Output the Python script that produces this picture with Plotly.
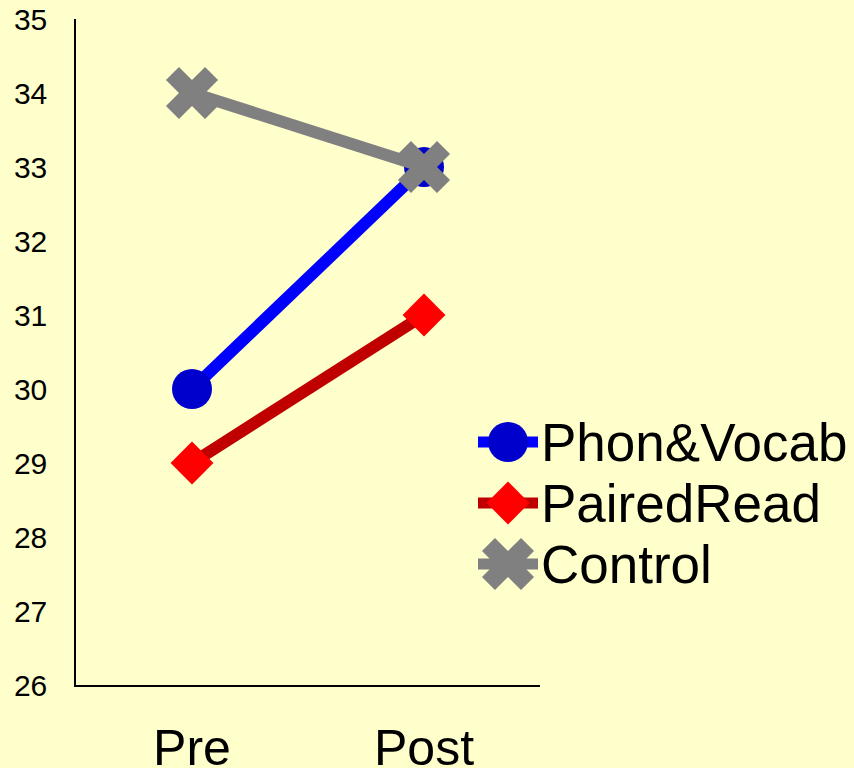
import plotly.graph_objects as go

# ---- data ----
categories = ["Pre", "Post"]
series_names = ["Phon&Vocab", "PairedRead", "Control"]
phon_vocab = [30, 33]
paired_read = [29, 31]
control = [34, 33]
series_values = [phon_vocab, paired_read, control]
y_ticks = [26, 27, 28, 29, 30, 31, 32, 33, 34, 35]

# ---- styling ----
W, H = 854, 768
BG = "#FFFFCC"
FONT = "Liberation Sans, Arial, sans-serif"
PLOT_L, PLOT_R, PLOT_T, PLOT_B = 76, 540, 19, 685  # plot area in px

styles = [
    dict(line="#0000FF", marker="#0000CC", symbol="circle", size=40),
    dict(line="#C00000", marker="#FF0000", symbol="diamond", size=33),
    dict(line="#808080", marker="#808080", symbol="x", size=46),
]
LINE_W = 12

fig = go.Figure()

for name, vals, st in zip(series_names, series_values, styles):
    fig.add_trace(go.Scatter(
        x=categories, y=vals, name=name, mode="lines+markers",
        line=dict(color=st["line"], width=LINE_W),
        marker=dict(color=st["marker"], symbol=st["symbol"], size=st["size"],
                    line=dict(width=0)),
        xaxis="x", yaxis="y", showlegend=False,
    ))

# ---- custom legend (large symbols) on a pixel-space overlay axis ----
LEG_X0, LEG_X1 = 478, 538
LEG_Y0, LEG_DY = 442, 61
for i, (name, st) in enumerate(zip(series_names, styles)):
    yy = LEG_Y0 + i * LEG_DY
    fig.add_trace(go.Scatter(
        x=[LEG_X0, LEG_X1], y=[yy, yy], mode="lines",
        line=dict(color=st["line"], width=LINE_W - 1),
        xaxis="x2", yaxis="y2", showlegend=False, hoverinfo="skip",
    ))
    fig.add_trace(go.Scatter(
        x=[(LEG_X0 + LEG_X1) / 2], y=[yy], mode="markers",
        marker=dict(color=st["marker"], symbol=st["symbol"], size=st["size"],
                    line=dict(width=0)),
        xaxis="x2", yaxis="y2", showlegend=False, hoverinfo="skip",
    ))
    fig.add_annotation(
        x=LEG_X1 + 1, y=yy, xref="x2", yref="y2", text=name,
        showarrow=False, xanchor="left", yanchor="middle",
        font=dict(family=FONT, size=53, color="black"),
    )

fig.update_layout(
    width=W, height=H,
    margin=dict(l=0, r=0, t=0, b=0),
    paper_bgcolor=BG, plot_bgcolor="rgba(0,0,0,0)",
    font=dict(family=FONT, color="black"),
    showlegend=False,
    xaxis=dict(
        type="category", range=[-0.5, 1.5],
        domain=[PLOT_L / W, PLOT_R / W],
        showline=True, linecolor="black", linewidth=1.5,
        showgrid=False, zeroline=False, ticks="",
        tickfont=dict(size=50), ticklabelstandoff=18,
        anchor="y", automargin=False, fixedrange=True,
    ),
    yaxis=dict(
        range=[26, 35], tickvals=y_ticks,
        domain=[(H - PLOT_B) / H, (H - PLOT_T) / H],
        showline=True, linecolor="black", linewidth=1.5,
        showgrid=False, zeroline=False, ticks="",
        tickfont=dict(size=30), ticklabelstandoff=21,
        anchor="x", automargin=False, fixedrange=True,
    ),
    xaxis2=dict(domain=[0, 1], range=[0, W], visible=False, anchor="y2",
                fixedrange=True),
    yaxis2=dict(domain=[0, 1], range=[H, 0], visible=False, anchor="x2",
                fixedrange=True),
)

fig.write_html("out.html")
